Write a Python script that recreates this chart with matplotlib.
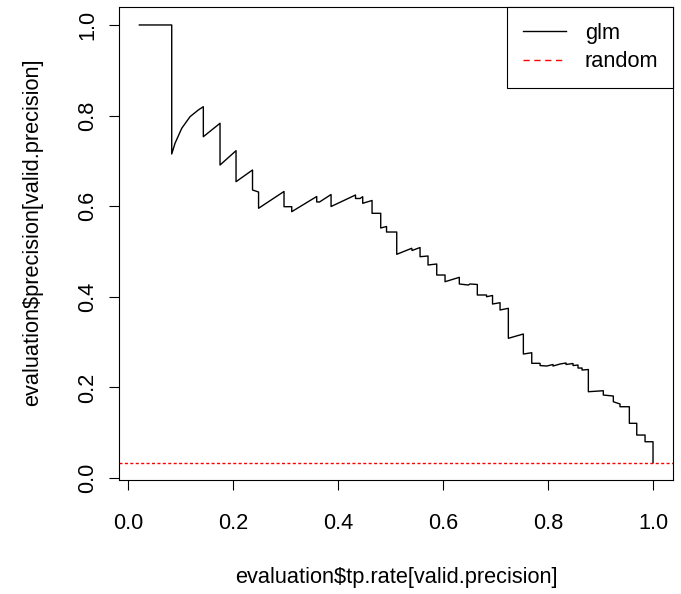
import matplotlib
matplotlib.use('Agg')
import matplotlib.pyplot as plt
from matplotlib.lines import Line2D

# Precision-recall curve vertices (recall, precision)
recall = [0.0215, 0.0832, 0.0832, 0.0895, 0.1023, 0.1181, 0.1339, 0.1434, 0.1434, 0.1752,
          0.1752, 0.2057, 0.2057, 0.2371, 0.2371, 0.2486, 0.2486, 0.2971, 0.2971, 0.3118,
          0.3118, 0.3594, 0.3594, 0.3648, 0.3867, 0.3867, 0.4333, 0.4333, 0.4419, 0.4470,
          0.4470, 0.4648, 0.4648, 0.4813, 0.4813, 0.4924, 0.4924, 0.5118, 0.5118, 0.5404,
          0.5410, 0.5562, 0.5562, 0.5714, 0.5714, 0.5880, 0.5880, 0.6038, 0.6038, 0.6310,
          0.6310, 0.6482, 0.6514, 0.6653, 0.6653, 0.6829, 0.6829, 0.6943, 0.6943, 0.7086,
          0.7086, 0.7244, 0.7244, 0.7530, 0.7530, 0.7690, 0.7690, 0.7848, 0.7848, 0.7975,
          0.8095, 0.8095, 0.8229, 0.8343, 0.8343, 0.8476, 0.8476, 0.8571, 0.8571, 0.8648,
          0.8648, 0.8768, 0.8768, 0.9053, 0.9053, 0.9244, 0.9244, 0.9371, 0.9371, 0.9549,
          0.9549, 0.9690, 0.9690, 0.9848, 0.9848, 1.0000, 1.0000]
precision = [1.0000, 1.0000, 0.7152, 0.7389, 0.7720, 0.7976, 0.8124, 0.8196, 0.7534, 0.7830,
             0.6909, 0.7225, 0.6541, 0.6799, 0.6358, 0.6313, 0.5954, 0.6325, 0.5989, 0.5989,
             0.5879, 0.6214, 0.6093, 0.6093, 0.6258, 0.5993, 0.6247, 0.6170, 0.6170, 0.6210,
             0.6064, 0.6126, 0.5843, 0.5843, 0.5519, 0.5552, 0.5430, 0.5430, 0.4938, 0.5071,
             0.5022, 0.5088, 0.4885, 0.4901, 0.4702, 0.4724, 0.4481, 0.4481, 0.4333, 0.4430,
             0.4283, 0.4260, 0.4283, 0.4272, 0.4040, 0.4040, 0.4002, 0.4029, 0.3841, 0.3870,
             0.3709, 0.3746, 0.3084, 0.3179, 0.2737, 0.2766, 0.2532, 0.2532, 0.2483, 0.2472,
             0.2506, 0.2472, 0.2517, 0.2539, 0.2506, 0.2528, 0.2483, 0.2494, 0.2428, 0.2428,
             0.2384, 0.2395, 0.1905, 0.1927, 0.1832, 0.1810, 0.1684, 0.1634, 0.1574, 0.1574,
             0.1208, 0.1208, 0.0949, 0.0949, 0.0801, 0.0801, 0.0338]
random_precision = 0.0338

x_ticks = [0.0, 0.2, 0.4, 0.6, 0.8, 1.0]
x_tick_labels = ['0.0', '0.2', '0.4', '0.6', '0.8', '1.0']
y_ticks = [0.0, 0.2, 0.4, 0.6, 0.8, 1.0]
y_tick_labels = ['0.0', '0.2', '0.4', '0.6', '0.8', '1.0']
legend_labels = ['glm', 'random']
x_label = 'evaluation$tp.rate[valid.precision]'
y_label = 'evaluation$precision[valid.precision]'

plt.rcParams['font.family'] = ['Liberation Sans', 'DejaVu Sans']
plt.rcParams['text.parse_math'] = False

FS = 15.7
W, H = 681, 594
fig = plt.figure(figsize=(W / 100, H / 100), dpi=100)
left, right, top, bottom = 118.6, 673.5, 7.3, 480.3
ax = fig.add_axes([left / W, 1 - bottom / H, (right - left) / W, (bottom - top) / H])

ax.plot(recall, precision, color='black', lw=1.0)
ax.axhline(random_precision, color='#ff0000', lw=1.0, ls=(0, (2.2, 1.7)))

ax.set_xlim(-0.018, 1.039)
ax.set_ylim(-0.005, 1.039)
ax.set_xticks(x_ticks)
ax.set_xticklabels(x_tick_labels)
ax.set_yticks(y_ticks)
ax.set_yticklabels(y_tick_labels, rotation=90, va='center')
ax.tick_params(direction='out', length=7, width=0.8, labelsize=FS, colors='black')
ax.tick_params(axis='x', pad=16.6)
ax.tick_params(axis='y', pad=7.8)
for s in ax.spines.values():
    s.set_linewidth(0.8)
    s.set_color('black')

fig.text(396 / W, 1 - 577 / H, x_label, fontsize=FS, ha='center', va='center')
fig.text(33 / W, 1 - 232 / H, y_label, fontsize=FS, ha='center', va='center', rotation=90)

handles = [Line2D([], [], color='black', lw=1.0),
           Line2D([], [], color='#ff0000', lw=1.0, ls=(0, (4.5, 3.3)))]
leg = ax.legend(handles, legend_labels, loc='upper right', borderaxespad=0, fancybox=False,
                framealpha=1, edgecolor='black', fontsize=FS, handlelength=2.0,
                handletextpad=0.85, borderpad=0.7, labelspacing=0.36)
leg.get_frame().set_linewidth(0.8)

fig.savefig('out.png', dpi=100)
